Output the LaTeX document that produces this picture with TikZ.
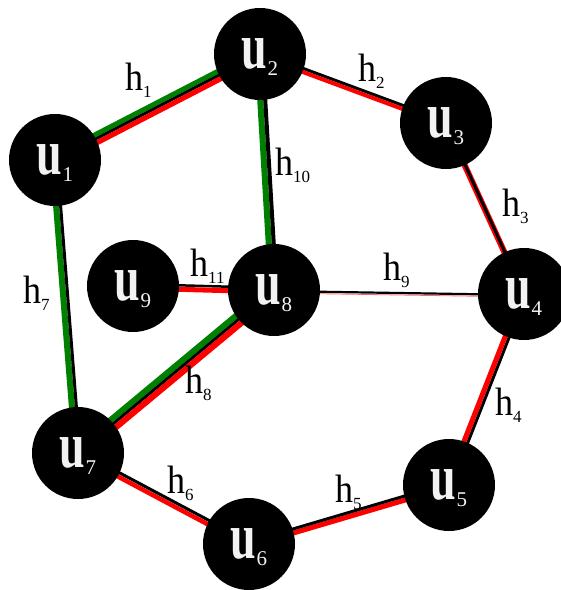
\documentclass[tikz,border=0pt]{standalone}
\usepackage{fontspec}
\setmainfont{Liberation Serif}
\usetikzlibrary{calc,backgrounds}
\newcommand\ulab[1]{\scalebox{1}[1.42]{\fontsize{46}{46}\selectfont\bfseries u}\smash{\raisebox{-7pt}{\fontsize{21}{21}\selectfont #1}}}
\newcommand\hlab[1]{\scalebox{1}[1.1]{\fontsize{36}{36}\selectfont h}\smash{\raisebox{-7pt}{\fontsize{17}{17}\selectfont #1}}}
\newcommand\strip[5]{\draw[#4, line width=#5pt] ($(#1)!#3pt!90:(#2)$) -- ($(#2)!#3pt!-90:(#1)$);}
\colorlet{grn}{green!50!black}
\begin{document}
\begin{tikzpicture}[x=1pt,y=-1pt,
  vert/.style={circle, fill=black, minimum size=92pt, inner sep=0pt, text=gray!10},
  elab/.style={inner sep=0pt, anchor=base west}]
\useasboundingbox (0,0) rectangle (561,590);
\node[vert] (u1) at (55,160) {\ulab{1}};
\node[vert] (u2) at (260,54) {\ulab{2}};
\node[vert] (u3) at (446,123) {\ulab{3}};
\node[vert] (u4) at (524,294) {\ulab{4}};
\node[vert] (u5) at (449,485) {\ulab{5}};
\node[vert] (u6) at (249,544) {\ulab{6}};
\node[vert] (u7) at (78,453) {\ulab{7}};
\node[vert] (u8) at (274,290) {\ulab{8}};
\node[vert] (u9) at (133,286) {\ulab{9}};
\begin{pgfonlayer}{background}
% h1
\strip{u1}{u2}{4}{grn}{5}\strip{u1}{u2}{0}{black}{3}\strip{u1}{u2}{-4}{red}{5}
% h2
\strip{u2}{u3}{1.5}{black}{3}\strip{u2}{u3}{-2}{red}{4}
% h3
\strip{u3}{u4}{-0.5}{red}{6}\strip{u3}{u4}{0}{black}{3}
% h4
\strip{u4}{u5}{2}{black}{3}\strip{u4}{u5}{-2}{red}{5}
% h5
\strip{u5}{u6}{2}{red}{5}\strip{u5}{u6}{-2}{black}{3}
% h6
\strip{u6}{u7}{2}{red}{4.5}\strip{u6}{u7}{-2}{black}{3}
% h7
\strip{u1}{u7}{-2.5}{grn}{6}\strip{u1}{u7}{2}{black}{3}
% h8
\strip{u7}{u8}{4.5}{grn}{6}\strip{u7}{u8}{0}{black}{3}\strip{u7}{u8}{-4.5}{red}{6}
% h9
\strip{u8}{u4}{-3}{red!60}{0.8}\strip{u8}{u4}{-1}{black}{2.2}
% h10
\strip{u2}{u8}{-2.5}{grn}{6}\strip{u2}{u8}{2.5}{black}{4}
% h11
\strip{u9}{u8}{2}{black}{2.5}\strip{u9}{u8}{-2}{red}{5}
\end{pgfonlayer}
\node[elab] (h1) at (125,90) {\hlab{1}};
\node[elab] (h2) at (358,81) {\hlab{2}};
\node[elab] (h3) at (502,216) {\hlab{3}};
\node[elab] (h4) at (495,415) {\hlab{4}};
\node[elab] (h5) at (335,502) {\hlab{5}};
\node[elab] (h6) at (167,493) {\hlab{6}};
\node[elab] (h7) at (23,303) {\hlab{7}};
\node[elab] (h8) at (185,393) {\hlab{8}};
\node[elab] (h9) at (383,280) {\hlab{9}};
\node[elab] (h10) at (275,175) {\hlab{10}};
\node[elab] (h11) at (190,276) {\hlab{11}};
\end{tikzpicture}
\end{document}
